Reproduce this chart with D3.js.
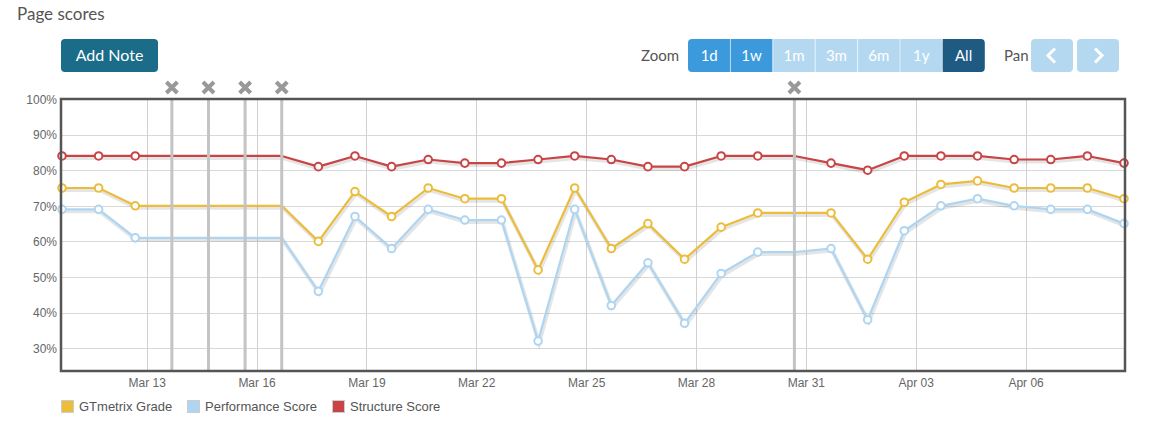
<!DOCTYPE html>
<html>
<head>
<meta charset="utf-8">
<script src="https://cdn.jsdelivr.net/npm/d3@7"></script>
<style>
  body { margin: 0; background: #fff; }
  svg { display: block; }
</style>
</head>
<body>
<div id="container"></div>
<script>
let w = 1150;
let h = 431;

// daily test runs
let dates = [
  "2019-03-10T16:30", "2019-03-11T16:30", "2019-03-12T16:30", "2019-03-13T16:30",
  "2019-03-14T16:30", "2019-03-15T16:30", "2019-03-16T16:30", "2019-03-17T16:30",
  "2019-03-18T16:30", "2019-03-19T16:30", "2019-03-20T16:30", "2019-03-21T16:30",
  "2019-03-22T16:30", "2019-03-23T16:30", "2019-03-24T16:30", "2019-03-25T16:30",
  "2019-03-26T16:30", "2019-03-27T16:30", "2019-03-28T16:30", "2019-03-29T16:30",
  "2019-03-30T16:30", "2019-03-31T16:30", "2019-04-01T16:30", "2019-04-02T16:30",
  "2019-04-03T16:30", "2019-04-04T16:30", "2019-04-05T16:30", "2019-04-06T16:30",
  "2019-04-07T16:30", "2019-04-08T16:30"
];
let gtmetrixGrade    = [75,75,70,70,70,70,70,60,74,67,75,72,72,52,75,58,65,55,64,68,68,68,55,71,76,77,75,75,75,72];
let performanceScore = [69,69,61,61,61,61,61,46,67,58,69,66,66,32,69,42,54,37,51,57,57,58,38,63,70,72,70,69,69,65];
let structureScore   = [84,84,84,84,84,84,84,81,84,81,83,82,82,83,84,83,81,81,84,84,84,82,80,84,84,84,83,83,84,82];

let noteDates = ["2019-03-13T16:30", "2019-03-14T16:30", "2019-03-15T16:30", "2019-03-16T16:30", "2019-03-30T16:30"];
let tickDates = ["2019-03-13", "2019-03-16", "2019-03-19", "2019-03-22", "2019-03-25", "2019-03-28", "2019-03-31", "2019-04-03", "2019-04-06"];
let yTicks = [30, 40, 50, 60, 70, 80, 90, 100];

let seriesNames = ["GTmetrix Grade", "Performance Score", "Structure Score"];
let seriesColors = ["#ecbd3c", "#aed5f2", "#c94545"];
let zoomButtons = ["1d", "1w", "1m", "3m", "6m", "1y", "All"];

let parseTime = d3.utcParse("%Y-%m-%dT%H:%M");
let parseDay = d3.utcParse("%Y-%m-%d");

let viz = d3.select("#container")
  .append("svg")
    .attr("width", w)
    .attr("height", h)
;

let pLeft = 62, pRight = 1124, pTop = 99, pBottom = 371;

let xScale = d3.scaleUtc()
  .domain([parseTime(dates[0]), parseTime(dates[dates.length - 1])])
  .range([pLeft, pRight]);
let yScale = d3.scaleLinear().domain([23.6, 100]).range([pBottom, pTop]);

// title
viz.append("text")
  .attr("x", 17).attr("y", 20)
  .attr("font-family", "Lato, sans-serif")
  .attr("font-size", 17)
  .attr("fill", "#555")
  .text("Page scores");

// add note button
viz.append("rect")
  .attr("x", 61).attr("y", 39).attr("width", 97).attr("height", 33)
  .attr("rx", 4).attr("fill", "#1b6c89");
viz.append("text")
  .attr("x", 109.5).attr("y", 61)
  .attr("text-anchor", "middle")
  .attr("font-family", "Lato, sans-serif")
  .attr("font-size", 16)
  .attr("fill", "#fff")
  .text("Add Note");

// zoom buttons
viz.append("text")
  .attr("x", 641).attr("y", 61)
  .attr("font-family", "Lato, sans-serif")
  .attr("font-size", 15)
  .attr("fill", "#555")
  .text("Zoom");

let zoomGroup = viz.append("g");
let btnW = 42.4;
zoomButtons.forEach(function(label, i){
  let fill = i < 2 ? "#3c99dc" : (label == "All" ? "#1e5a82" : "#b5d8f1");
  let x0 = 688 + i * btnW;
  if (i == 0 || i == 6) {
    // rounded end pieces
    zoomGroup.append("rect")
      .attr("x", x0).attr("y", 39).attr("width", btnW).attr("height", 33)
      .attr("rx", 4).attr("fill", fill);
    zoomGroup.append("rect")
      .attr("x", i == 0 ? x0 + 8 : x0).attr("y", 39).attr("width", btnW - 8).attr("height", 33)
      .attr("fill", fill);
  } else {
    zoomGroup.append("rect")
      .attr("x", x0).attr("y", 39).attr("width", btnW).attr("height", 33)
      .attr("fill", fill);
  }
  if (i > 0) {
    zoomGroup.append("line")
      .attr("x1", x0).attr("x2", x0).attr("y1", 39).attr("y2", 72)
      .attr("stroke", "#fff").attr("stroke-opacity", 0.6).attr("stroke-width", 1);
  }
  zoomGroup.append("text")
    .attr("x", x0 + btnW / 2).attr("y", 61)
    .attr("text-anchor", "middle")
    .attr("font-family", "Lato, sans-serif")
    .attr("font-size", 15)
    .attr("fill", "#fff")
    .text(label);
});

// pan buttons
viz.append("text")
  .attr("x", 1004).attr("y", 61)
  .attr("font-family", "Lato, sans-serif")
  .attr("font-size", 15)
  .attr("fill", "#555")
  .text("Pan");
[1031, 1077].forEach(function(x0, i){
  viz.append("rect")
    .attr("x", x0).attr("y", 39).attr("width", 42).attr("height", 33)
    .attr("rx", 4).attr("fill", "#b5d8f1");
  let cx = x0 + 21, cy = 55.5;
  let pts = i == 0
    ? [[cx + 3, cy - 7], [cx - 4, cy], [cx + 3, cy + 7]]
    : [[cx - 3, cy - 7], [cx + 4, cy], [cx - 3, cy + 7]];
  viz.append("polyline")
    .attr("points", pts.map(p => p.join(",")).join(" "))
    .attr("fill", "none").attr("stroke", "#fff").attr("stroke-width", 3);
});

// grid
let grid = viz.append("g").attr("class", "grid");
grid.selectAll(".hgrid").data(yTicks).enter()
  .append("line")
    .attr("x1", pLeft).attr("x2", 1125)
    .attr("y1", d => Math.round(yScale(d)) + 0.5)
    .attr("y2", d => Math.round(yScale(d)) + 0.5)
    .attr("stroke", "#d8d8d8");
grid.selectAll(".vgrid").data(tickDates).enter()
  .append("line")
    .attr("x1", d => Math.round(xScale(parseDay(d))) + 0.5)
    .attr("x2", d => Math.round(xScale(parseDay(d))) + 0.5)
    .attr("y1", pTop).attr("y2", pBottom)
    .attr("stroke", "#d0d0d0");

// axes
let yAxis = d3.axisLeft(yScale).tickValues(yTicks).tickSize(0).tickPadding(5)
  .tickFormat(d => d + "%");
let yAxisGroup = viz.append("g").attr("class", "yaxis")
  .attr("transform", "translate(" + pLeft + ",0)")
  .call(yAxis);
let xAxis = d3.axisBottom(xScale).tickValues(tickDates.map(parseDay)).tickSize(0).tickPadding(7)
  .tickFormat(d3.utcFormat("%b %d"));
let xAxisGroup = viz.append("g").attr("class", "xaxis")
  .attr("transform", "translate(0," + pBottom + ")")
  .call(xAxis);
viz.selectAll(".xaxis path, .yaxis path").remove();
viz.selectAll(".xaxis text, .yaxis text")
  .attr("font-family", "'Liberation Sans', Arial, sans-serif")
  .attr("font-size", 12)
  .attr("fill", "#666");
yAxisGroup.selectAll("text").attr("dy", "0.35em");

// series
let allSeries = [gtmetrixGrade, performanceScore, structureScore];
let noteTimes = noteDates.map(d => +parseTime(d));
let line = d3.line()
  .x((d, i) => xScale(parseTime(dates[i])))
  .y(d => yScale(d));

let seriesGroup = viz.append("g").attr("class", "series");
allSeries.forEach(function(values, s){
  seriesGroup.append("path")
    .attr("d", line(values))
    .attr("fill", "none")
    .attr("stroke", "#000")
    .attr("stroke-opacity", 0.1)
    .attr("stroke-width", 4)
    .attr("transform", "translate(1,2)");
  seriesGroup.append("path")
    .attr("d", line(values))
    .attr("fill", "none")
    .attr("stroke", seriesColors[s])
    .attr("stroke-width", 2.2)
    .attr("stroke-linejoin", "round");
});

// note lines
let noteGroup = viz.append("g").attr("class", "notes");
noteGroup.selectAll("line").data(noteDates).enter()
  .append("line")
    .attr("x1", d => xScale(parseTime(d))).attr("x2", d => xScale(parseTime(d)))
    .attr("y1", pTop).attr("y2", pBottom)
    .attr("stroke", "#c4c4c4")
    .attr("stroke-width", 3);
noteGroup.selectAll("path").data(noteDates).enter()
  .append("path")
    .attr("d", "M-5.5,-5.5L5.5,5.5M5.5,-5.5L-5.5,5.5")
    .attr("transform", d => "translate(" + xScale(parseTime(d)) + ",87.5)")
    .attr("stroke", "#999")
    .attr("stroke-width", 4)
    .attr("fill", "none");

// markers (hidden where notes sit)
allSeries.forEach(function(values, s){
  let pts = values.map((v, i) => ({t: parseTime(dates[i]), v: v}))
    .filter(p => noteTimes.indexOf(+p.t) < 0);
  seriesGroup.selectAll(".m" + s).data(pts).enter()
    .append("circle")
      .attr("class", "m" + s)
      .attr("cx", d => xScale(d.t))
      .attr("cy", d => yScale(d.v))
      .attr("r", 3.8)
      .attr("fill", "#fff")
      .attr("stroke", seriesColors[s])
      .attr("stroke-width", 2);
});

// plot border
viz.append("rect")
  .attr("x", pLeft - 1).attr("y", pTop).attr("width", 1126 - pLeft).attr("height", pBottom - pTop)
  .attr("fill", "none")
  .attr("stroke", "#555")
  .attr("stroke-width", 2.5);

// legend
let legendX = [61, 187, 332];
let legend = viz.append("g").attr("class", "legend");
seriesNames.forEach(function(name, i){
  legend.append("rect")
    .attr("x", legendX[i] + 0.5).attr("y", 400.5).attr("width", 12).attr("height", 12)
    .attr("fill", seriesColors[i])
    .attr("stroke", "#ccc");
  legend.append("text")
    .attr("x", legendX[i] + 18).attr("y", 411)
    .attr("font-family", "'Liberation Sans', Arial, sans-serif")
    .attr("font-size", 13)
    .attr("fill", "#555")
    .text(name);
});
</script>
</body>
</html>
